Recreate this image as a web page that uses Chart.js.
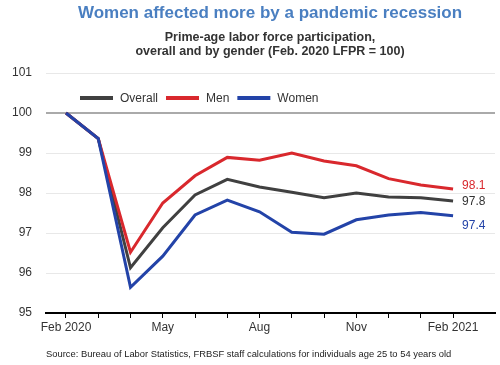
<!DOCTYPE html>
<html><head><meta charset="utf-8">
<script src="https://cdn.jsdelivr.net/npm/chart.js@4"></script>
<style>html,body{margin:0;padding:0;background:#fff}#wrap{width:500px;height:365px;position:relative}</style>
</head><body><div id="wrap"><canvas id="c" width="500" height="365"></canvas></div>
<script>
const months = ['Feb 2020','Mar','Apr','May','Jun','Jul','Aug','Sep','Oct','Nov','Dec','Jan','Feb 2021'];
const tickLabels = ['Feb 2020','','','May','','','Aug','','','Nov','','','Feb 2021'];
const overall = [100, 99.36, 96.13, 97.13, 97.95, 98.34, 98.15, 98.02, 97.88, 98.0, 97.9, 97.88, 97.8];
const men     = [100, 99.36, 96.52, 97.75, 98.43, 98.89, 98.82, 99.0, 98.8, 98.68, 98.36, 98.2, 98.1];
const women   = [100, 99.36, 95.64, 96.42, 97.45, 97.82, 97.53, 97.02, 96.97, 97.33, 97.45, 97.51, 97.43];
const endLabels = ['97.8','98.1','97.4'];
const seriesNames = ['Overall','Men','Women'];
const yTicks = [95,96,97,98,99,100,101];

const FONT = "'Liberation Sans', Arial, sans-serif";
const colors = ['#404040','#d9282d','#2343a8'];
const endOffsets = [1, -3, 10];

const pts = arr => arr.map((v,i)=>({x:i,y:v}));

const textPlugin = {
  id:'texts',
  afterDraw(chart){
    const ctx = chart.ctx;
    ctx.save();
    ctx.textAlign='center'; ctx.textBaseline='middle';
    ctx.fillStyle='#4a7fc1';
    ctx.font='bold 17px '+FONT;
    ctx.fillText('Women affected more by a pandemic recession', 270, 13);
    ctx.fillStyle='#333333';
    ctx.font='bold 12.5px '+FONT;
    ctx.fillText('Prime-age labor force participation,', 270, 38);
    ctx.fillText('overall and by gender (Feb. 2020 LFPR = 100)', 270, 52);
    ctx.textAlign='left';
    ctx.fillStyle='#222';
    ctx.font='9.4px '+FONT;
    ctx.fillText('Source: Bureau of Labor Statistics, FRBSF staff calculations for individuals age 25 to 54 years old', 46, 354);
    // legend
    ctx.font='12px '+FONT;
    let x = 80; const ly = 98;
    chart.data.datasets.forEach((ds,i)=>{
      ctx.strokeStyle = ds.borderColor; ctx.lineWidth=4; ctx.lineCap='butt';
      ctx.beginPath(); ctx.moveTo(x,ly); ctx.lineTo(x+33,ly); ctx.stroke();
      x += 40;
      ctx.fillStyle='#333';
      ctx.fillText(ds.label, x, ly+1);
      x += ctx.measureText(ds.label).width + 8;
    });
    // end labels
    const xs = chart.scales.x, ys = chart.scales.y;
    chart.data.datasets.forEach((ds,i)=>{
      const last = ds.data[ds.data.length-1];
      ctx.fillStyle = i===0 ? '#333' : ds.borderColor;
      ctx.font='12px '+FONT;
      ctx.fillText(endLabels[i], xs.getPixelForValue(last.x)+9, ys.getPixelForValue(last.y)+endOffsets[i]);
    });
    ctx.restore();
  }
};

new Chart(document.getElementById('c'), {
  type:'line',
  data:{ datasets:[
    {label:seriesNames[0], data:pts(overall), borderColor:colors[0], order:3},
    {label:seriesNames[1], data:pts(men), borderColor:colors[1], order:2},
    {label:seriesNames[2], data:pts(women), borderColor:colors[2], order:1}
  ]},
  options:{
    responsive:false, animation:false,
    layout:{padding:{top:73,right:5,bottom:30,left:0}},
    elements:{line:{borderWidth:3,tension:0,borderJoinStyle:'miter'},point:{radius:0}},
    plugins:{legend:{display:false},title:{display:false},tooltip:{enabled:false}},
    scales:{
      x:{type:'linear',min:-0.62,max:13.3,
        afterBuildTicks:s=>{s.ticks=months.map((_,i)=>({value:i}));},
        afterFit:s=>{s.height=22;},
        grid:{drawOnChartArea:false,drawTicks:true,tickLength:5,tickColor:'#000',tickWidth:1},
        border:{display:true,color:'#000',width:2},
        ticks:{padding:2,color:'#333',font:{family:FONT,size:12},maxRotation:0,autoSkip:false,
          callback:(v)=>tickLabels[v] ?? ''}
      },
      y:{min:95,max:101,
        afterBuildTicks:s=>{s.ticks=yTicks.map(v=>({value:v}));},
        afterFit:s=>{s.width=46;},
        grid:{drawTicks:false,
          color:c=>c.tick && c.tick.value===100?'#aaaaaa':'#e8e8e8',
          lineWidth:c=>c.tick && c.tick.value===100?2:1},
        border:{display:false},
        ticks:{padding:14,color:'#333',font:{family:FONT,size:12}}
      }
    }
  },
  plugins:[textPlugin]
});
</script></body></html>
